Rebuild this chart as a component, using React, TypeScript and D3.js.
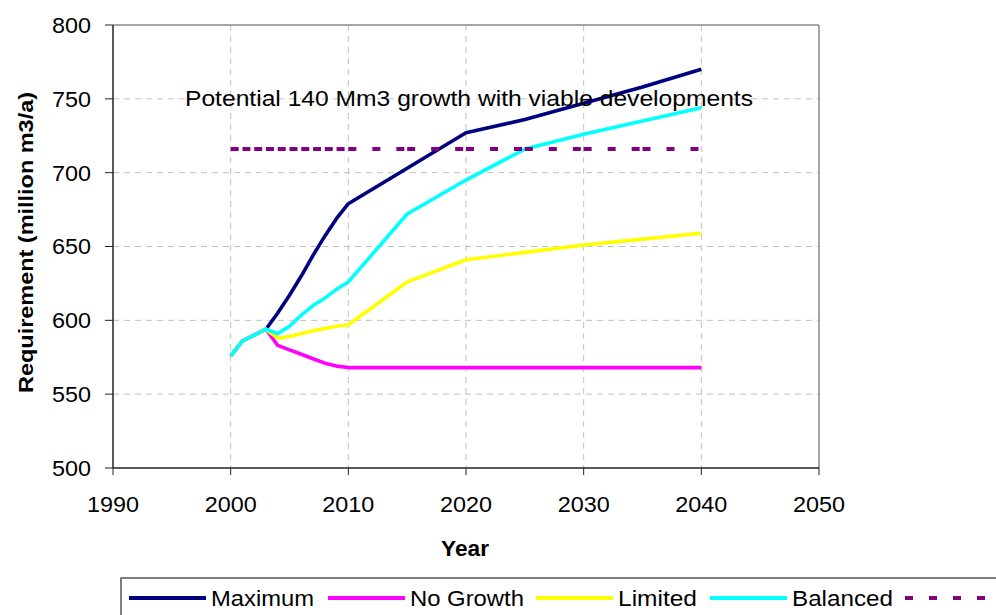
import React from 'react';
import * as d3 from 'd3';

// years with data (yearly to 2010, then every 5 years)
const years = [2000, 2001, 2002, 2003, 2004, 2005, 2006, 2007, 2008, 2009, 2010, 2015, 2020, 2025, 2030, 2035, 2040];

const maximum = [576, 586, 590, 594, 605, 617, 630, 644, 657, 669, 679, 703, 727, 736, 747, 758, 770];
const noGrowth = [576, 586, 590, 594, 583, 580, 577, 574, 571, 569, 568, 568, 568, 568, 568, 568, 568];
const limited = [576, 586, 590, 594, 588, 589, 591, 593, 594.5, 596, 597, 626, 641, 646, 651, 655, 659];
const balanced = [576, 586, 590, 594, 591, 596, 603.5, 610, 615, 621, 626, 672, 695, 716, 726, 735, 744];
const potential = [716, 716, 716, 716, 716, 716, 716, 716, 716, 716, 716, 716, 716, 716, 716, 716, 716];

const xTicks = [1990, 2000, 2010, 2020, 2030, 2040, 2050];
const yTicks = [500, 550, 600, 650, 700, 750, 800];

const annotation = 'Potential 140 Mm3 growth with viable developments';

const series = [
  { name: 'Maximum', values: maximum, color: '#000080', dashed: false },
  { name: 'No Growth', values: noGrowth, color: '#FF00FF', dashed: false },
  { name: 'Limited', values: limited, color: '#FFFF00', dashed: false },
  { name: 'Balanced', values: balanced, color: '#00FFFF', dashed: false },
  { name: '', values: potential, color: '#800080', dashed: true },
];

// legend layout: line start x and label width
const legendX = [129, 328, 536, 710, 905];
const legendW = [103, 114, 79, 101, 0];

export default function App() {
  const width = 996;
  const height = 615;
  const margin = { top: 25, right: 177, bottom: 147, left: 113 };
  const x = d3.scaleLinear().domain([1990, 2050]).range([margin.left, width - margin.right]);
  const y = d3.scaleLinear().domain([500, 800]).range([height - margin.bottom, margin.top]);

  const line = d3
    .line<number>()
    .x((_, i) => x(years[i]))
    .y((d) => y(d));

  const font = '"Liberation Sans", Arial, sans-serif';
  const x0 = x(1990);
  const x1 = x(2050);
  const y0 = y(500);
  const y1 = y(800);

  return (
    <svg
      width={width}
      height={height}
      style={{ position: 'absolute', left: 0, top: 0, background: '#fff' }}
      fontFamily={font}
    >
      {/* grid */}
      <g stroke="#c0c0c0" strokeWidth={1} strokeDasharray="6 5">
        {yTicks.filter((t) => t > 500 && t < 800).map((t) => (
          <line key={`gy${t}`} x1={x0} x2={x1} y1={y(t)} y2={y(t)} />
        ))}
        {xTicks.filter((t) => t > 1990 && t < 2050).map((t) => (
          <line key={`gx${t}`} x1={x(t)} x2={x(t)} y1={y1} y2={y0} />
        ))}
      </g>

      {/* frame */}
      <line x1={x0} x2={x1} y1={y1} y2={y1} stroke="#888" strokeWidth={1.5} />
      <line x1={x1} x2={x1} y1={y1} y2={y0} stroke="#888" strokeWidth={1.5} />
      <line x1={x0} x2={x0} y1={y1} y2={y0} stroke="#222" strokeWidth={1.5} />
      <line x1={x0} x2={x1} y1={y0} y2={y0} stroke="#222" strokeWidth={1.5} />

      {/* ticks */}
      <g stroke="#222" strokeWidth={1}>
        {yTicks.map((t) => (
          <line key={`ty${t}`} x1={x0 - 8} x2={x0} y1={y(t)} y2={y(t)} />
        ))}
        {xTicks.map((t) => (
          <line key={`tx${t}`} x1={x(t)} x2={x(t)} y1={y0} y2={y0 + 7} />
        ))}
      </g>
      <g fontSize={22} fill="#000">
        {yTicks.map((t) => (
          <text
            key={`ly${t}`}
            x={x0 - 61}
            y={y(t)}
            dy="0.36em"
            textLength={39}
            lengthAdjust="spacingAndGlyphs"
          >
            {t}
          </text>
        ))}
        {xTicks.map((t) => (
          <text
            key={`lx${t}`}
            x={x(t) - 26}
            y={y0 + 44}
            textLength={52}
            lengthAdjust="spacingAndGlyphs"
          >
            {t}
          </text>
        ))}
      </g>

      {/* axis titles */}
      <text x={441} y={556} fontSize={22} fontWeight="bold" textLength={48} lengthAdjust="spacingAndGlyphs">
        Year
      </text>
      <text
        transform={`translate(33, 393) rotate(-90)`}
        fontSize={21}
        fontWeight="bold"
        textLength={301}
        lengthAdjust="spacingAndGlyphs"
      >
        Requirement (million m3/a)
      </text>

      {/* series */}
      {series.map((s) =>
        s.dashed ? (
          <g key="pot">
            {s.values.slice(1).map((v, i) => (
              <line
                key={i}
                x1={x(years[i])}
                x2={x(years[i + 1])}
                y1={y(s.values[i])}
                y2={y(v)}
                stroke={s.color}
                strokeWidth={4}
                strokeDasharray="8 16"
              />
            ))}
          </g>
        ) : (
          <path
            key={s.name}
            d={line(s.values) || ''}
            fill="none"
            stroke={s.color}
            strokeWidth={3.6}
            strokeLinejoin="round"
          />
        )
      )}

      {/* annotation */}
      <text x={185} y={106} fontSize={22} fill="#000" textLength={568} lengthAdjust="spacingAndGlyphs">
        {annotation}
      </text>

      {/* legend */}
      <rect x={121} y={578} width={900} height={60} fill="#fff" stroke="#555" strokeWidth={1.5} />
      {series.map((s, i) => (
        <g key={`lg${i}`}>
          <line
            x1={legendX[i]}
            x2={legendX[i] + (s.dashed ? 80 : 77)}
            y1={598}
            y2={598}
            stroke={s.color}
            strokeWidth={4}
            strokeDasharray={s.dashed ? '8 16' : undefined}
          />
          {s.name && (
            <text
              x={legendX[i] + 82}
              y={606}
              fontSize={22}
              textLength={legendW[i]}
              lengthAdjust="spacingAndGlyphs"
            >
              {s.name}
            </text>
          )}
        </g>
      ))}
    </svg>
  );
}
